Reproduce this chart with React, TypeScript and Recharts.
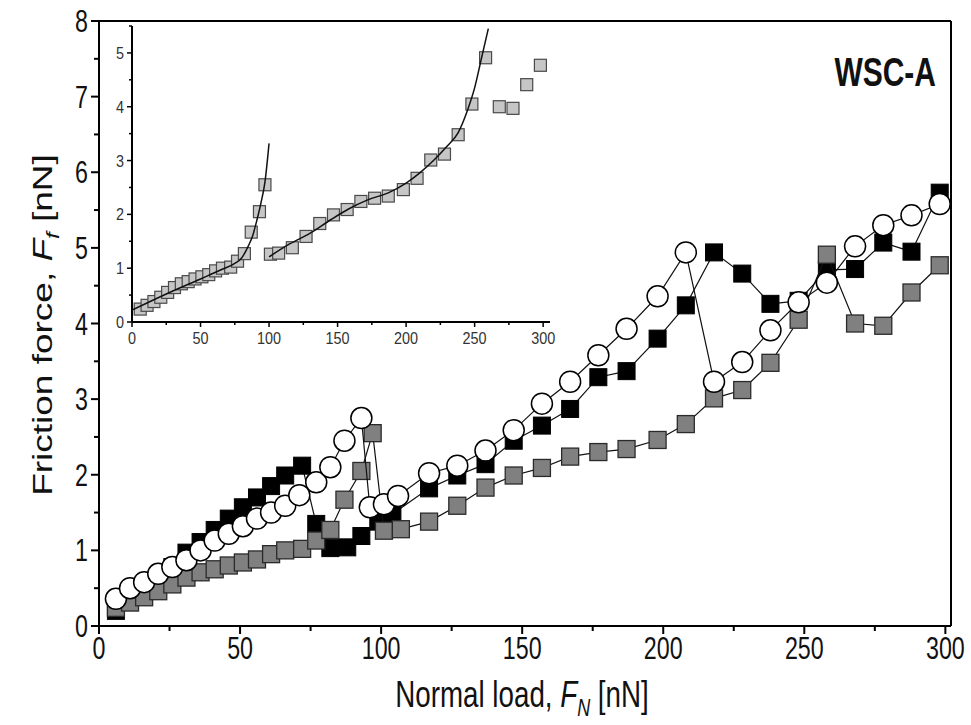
import React from 'react';
import { ScatterChart, Scatter, XAxis, YAxis, ReferenceLine } from 'recharts';

// main chart: three runs, friction force vs normal load
const loadBlack = [6, 11, 16, 21, 26, 31, 36, 41, 46, 51, 56, 61, 66, 72, 77, 82, 88, 93, 99, 104, 117, 127, 137, 147, 157, 167, 177, 187, 198, 208, 218, 228, 238, 248, 258, 268, 278, 288, 298];
const forceBlack = [0.2, 0.38, 0.5, 0.62, 0.78, 0.97, 1.11, 1.27, 1.42, 1.57, 1.7, 1.85, 1.99, 2.12, 1.35, 1.03, 1.04, 1.19, 1.38, 1.48, 1.82, 1.99, 2.14, 2.45, 2.65, 2.87, 3.29, 3.37, 3.8, 4.24, 4.94, 4.66, 4.26, 4.3, 4.71, 4.72, 5.07, 4.95, 5.73];

const loadOpen = [6, 11, 16, 21, 26, 31, 36, 41, 46, 51, 56, 61, 66, 71, 77, 82, 87, 93, 96, 101, 106, 117, 127, 137, 147, 157, 167, 177, 187, 198, 208, 218, 228, 238, 248, 258, 268, 278, 288, 298];
const forceOpen = [0.36, 0.5, 0.58, 0.69, 0.78, 0.87, 1.0, 1.13, 1.22, 1.32, 1.42, 1.5, 1.59, 1.73, 1.9, 2.1, 2.45, 2.75, 1.57, 1.61, 1.72, 2.02, 2.12, 2.32, 2.59, 2.94, 3.23, 3.58, 3.93, 4.36, 4.94, 3.23, 3.49, 3.91, 4.28, 4.54, 5.02, 5.3, 5.43, 5.58];

const loadGray = [6, 11, 16, 21, 26, 31, 36, 41, 46, 51, 56, 61, 66, 72, 77, 82, 87, 93, 97, 101, 107, 117, 127, 137, 147, 157, 167, 177, 187, 198, 208, 218, 228, 238, 248, 258, 268, 278, 288, 298];
const forceGray = [0.24, 0.31, 0.38, 0.46, 0.55, 0.64, 0.71, 0.75, 0.8, 0.84, 0.88, 0.95, 1.0, 1.02, 1.13, 1.27, 1.67, 2.05, 2.55, 1.26, 1.28, 1.38, 1.59, 1.83, 1.99, 2.09, 2.24, 2.3, 2.34, 2.46, 2.67, 3.01, 3.12, 3.48, 4.05, 4.91, 4.0, 3.97, 4.41, 4.77];

// inset fit curves
const fitLoadLow = [0, 25, 50, 65, 75, 80, 85, 88, 91, 94, 97, 100];
const fitForceLow = [0.22, 0.52, 0.8, 0.97, 1.09, 1.19, 1.42, 1.6, 1.88, 2.2, 2.6, 3.32];
const fitLoadHigh = [100, 115, 130, 145, 158, 172, 187, 200, 210, 220, 230, 238, 245, 250, 255, 260];
const fitForceHigh = [1.21, 1.45, 1.65, 1.9, 2.1, 2.27, 2.4, 2.58, 2.77, 3.0, 3.27, 3.52, 3.95, 4.35, 4.9, 5.45];

const mainXTicks = [0, 25, 50, 75, 100, 125, 150, 175, 200, 225, 250, 275, 300];
const mainYTicks = [0, 0.5, 1, 1.5, 2, 2.5, 3, 3.5, 4, 4.5, 5, 5.5, 6, 6.5, 7, 7.5, 8];
const insetXTicks = [0, 25, 50, 75, 100, 125, 150, 175, 200, 225, 250, 275, 300];
const insetYTicks = [0, 0.5, 1, 1.5, 2, 2.5, 3, 3.5, 4, 4.5, 5, 5.5];

const FONT = '"Liberation Sans", Arial, Helvetica, sans-serif';
const SQ = 0.75; // text in the figure is squeezed horizontally

const pts = (xs: number[], ys: number[]) => xs.map((x, i) => ({ x, y: ys[i] }));

const blackData = pts(loadBlack, forceBlack);
const openData = pts(loadOpen, forceOpen);
const grayData = pts(loadGray, forceGray);
const fitLow = pts(fitLoadLow, fitForceLow);
const fitHigh = pts(fitLoadHigh, fitForceHigh);

const BlackSquare = (p: any) => (
  <rect x={p.cx - 8.5} y={p.cy - 8.5} width={17} height={17} fill="#000" stroke="#000" strokeWidth={1} />
);
const GraySquare = (p: any) => (
  <rect x={p.cx - 8.5} y={p.cy - 8.5} width={17} height={17} fill="#808080" stroke="#2a2a2a" strokeWidth={1.3} />
);
const OpenCircle = (p: any) => (
  <circle cx={p.cx} cy={p.cy} r={10.5} fill="#fff" stroke="#000" strokeWidth={1.5} />
);
const InsetSquare = (p: any) => (
  <rect x={p.cx - 6} y={p.cy - 6} width={12} height={12} fill="#c6c6c6" stroke="#4a4a4a" strokeWidth={1.2} />
);
const NoDot = () => <g />;

const isMajor = (v: number, step: number) => Math.abs(v / step - Math.round(v / step)) < 1e-6;

const MainXTick = ({ x, y, payload }: any) => {
  const major = isMajor(payload.value, 50);
  return (
    <g>
      <line x1={x} y1={y} x2={x} y2={y + (major ? 8 : 5)} stroke="#000" strokeWidth={2} />
      {major && (
        <text transform={`translate(${x},${y + 33}) scale(${SQ},1)`} textAnchor="middle" fontSize={31} fontFamily={FONT} fill="#111">
          {payload.value}
        </text>
      )}
    </g>
  );
};

const MainYTick = ({ x, y, payload }: any) => {
  const major = isMajor(payload.value, 1);
  return (
    <g>
      <line x1={x} y1={y} x2={x - (major ? 8 : 5)} y2={y} stroke="#000" strokeWidth={2} />
      {major && (
        <text transform={`translate(${x - 11},${y + 11}) scale(${SQ},1)`} textAnchor="end" fontSize={31} fontFamily={FONT} fill="#111">
          {payload.value}
        </text>
      )}
    </g>
  );
};

const InsetXTick = ({ x, y, payload }: any) => {
  const major = isMajor(payload.value, 50);
  return (
    <g>
      <line x1={x} y1={y} x2={x} y2={y + (major ? 5 : 3)} stroke="#000" strokeWidth={1.5} />
      {major && (
        <text transform={`translate(${x},${y + 22}) scale(0.9,1)`} textAnchor="middle" fontSize={16} fontFamily={FONT} fill="#333">
          {payload.value}
        </text>
      )}
    </g>
  );
};

const InsetYTick = ({ x, y, payload }: any) => {
  const major = isMajor(payload.value, 1);
  return (
    <g>
      <line x1={x} y1={y} x2={x - (major ? 5 : 3)} y2={y} stroke="#000" strokeWidth={1.5} />
      {major && (
        <text transform={`translate(${x - 8},${y + 6}) scale(0.9,1)`} textAnchor="end" fontSize={16} fontFamily={FONT} fill="#333">
          {payload.value}
        </text>
      )}
    </g>
  );
};

const lineStyle = { stroke: '#111', strokeWidth: 1.2 };

export default function App() {
  return (
    <div style={{ position: 'absolute', left: 0, top: 0, width: 971, height: 725, background: '#fff' }}>
      <div style={{ position: 'absolute', left: 0, top: 0 }}>
        <ScatterChart width={971} height={725} margin={{ top: 21, right: 20, bottom: 49, left: 39 }}>
          <XAxis
            dataKey="x"
            type="number"
            domain={[0, 302]}
            ticks={mainXTicks}
            interval={0}
            height={50}
            tickSize={0}
            tickMargin={0}
            tick={<MainXTick />}
            axisLine={{ stroke: '#000', strokeWidth: 2 }}
            allowDataOverflow
          />
          <YAxis
            dataKey="y"
            type="number"
            domain={[0, 8]}
            ticks={mainYTicks}
            interval={0}
            width={60}
            tickSize={0}
            tickMargin={0}
            tick={<MainYTick />}
            axisLine={{ stroke: '#000', strokeWidth: 2 }}
            allowDataOverflow
          />
          <ReferenceLine y={8} stroke="#000" strokeWidth={2} />
          <ReferenceLine x={302} stroke="#000" strokeWidth={2} />
          <Scatter data={blackData} shape={BlackSquare} line={lineStyle} isAnimationActive={false} />
          <Scatter data={grayData} shape={GraySquare} line={lineStyle} isAnimationActive={false} />
          <Scatter data={openData} shape={OpenCircle} line={lineStyle} isAnimationActive={false} />
        </ScatterChart>
      </div>

      <div style={{ position: 'absolute', left: 0, top: 0 }}>
        <ScatterChart width={571} height={360} margin={{ top: 26, right: 21, bottom: 18, left: 102 }}>
          <XAxis
            dataKey="x"
            type="number"
            domain={[0, 305]}
            ticks={insetXTicks}
            interval={0}
            height={20}
            tickSize={0}
            tickMargin={0}
            tick={<InsetXTick />}
            axisLine={{ stroke: '#000', strokeWidth: 2 }}
            allowDataOverflow
          />
          <YAxis
            dataKey="y"
            type="number"
            domain={[0, 5.5]}
            ticks={insetYTicks}
            interval={0}
            width={30}
            tickSize={0}
            tickMargin={0}
            tick={<InsetYTick />}
            axisLine={{ stroke: '#000', strokeWidth: 2 }}
            allowDataOverflow
          />
          <Scatter data={grayData} shape={InsetSquare} isAnimationActive={false} />
          <Scatter data={fitLow} shape={NoDot} line={{ stroke: '#111', strokeWidth: 1.5 }} lineJointType="monotoneX" isAnimationActive={false} />
          <Scatter data={fitHigh} shape={NoDot} line={{ stroke: '#111', strokeWidth: 1.5 }} lineJointType="monotoneX" isAnimationActive={false} />
        </ScatterChart>
      </div>

      <svg width={971} height={725} style={{ position: 'absolute', left: 0, top: 0, pointerEvents: 'none' }}>
        <text transform={`translate(936,86) scale(${SQ},1)`} textAnchor="end" fontSize={40} fontWeight="bold" fontFamily={FONT} fill="#111">
          WSC-A
        </text>
        <text transform={`translate(522,707) scale(${SQ},1)`} textAnchor="middle" fontSize={37} fontFamily={FONT} fill="#111">
          Normal load, <tspan fontStyle="italic">F</tspan>
          <tspan fontStyle="italic" fontSize={24} dy={9}>N</tspan>
          <tspan dy={-9}> [nN]</tspan>
        </text>
        <text transform={`translate(52,325) scale(${SQ},1) rotate(-90)`} textAnchor="middle" fontSize={37} fontFamily={FONT} fill="#111">
          Friction force, <tspan fontStyle="italic">F</tspan>
          <tspan fontStyle="italic" fontSize={24} dy={9}>f</tspan>
          <tspan dy={-9}> [nN]</tspan>
        </text>
      </svg>
    </div>
  );
}
